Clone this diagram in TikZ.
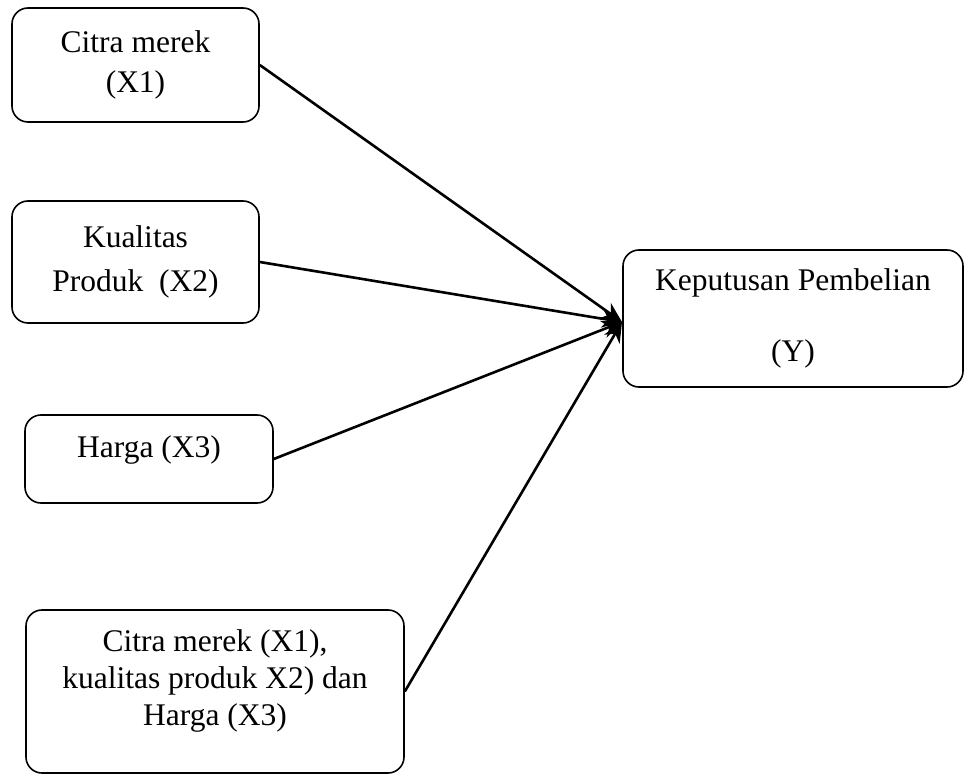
\documentclass[tikz,border=0pt]{standalone}
\usepackage{fontspec}
\setmainfont{Liberation Serif}
\usetikzlibrary{arrows.meta}

\begin{document}
\begin{tikzpicture}
            [x=0.5pt, y=-0.5pt,
            box/.style={draw, thick, rounded corners=8pt, align=center, inner sep=2pt,
                font=\fontsize{15.75}{18.5}\selectfont},
            edge/.style={line width=1.3pt, black, -{Stealth[length=10pt,width=9pt]}}]

            \useasboundingbox (0,0) rectangle (965,775);

            \node[box, minimum width=123.5pt, minimum height=57pt] (b1) at (135.5,65) {Citra merek\\[1.5pt](X1)};
            \node[box, minimum width=123.5pt, minimum height=61pt] (b2) at (135.5,262) {Kualitas\\[3.5pt]Produk~~(X2)};
            \node[box, minimum width=124pt, minimum height=44pt] (b3) at (149,459) {Harga (X3)\rule[-12.5pt]{0pt}{12.5pt}};
            \node[box, minimum width=189pt, minimum height=81.5pt] (b4) at (215,691.5) {Citra merek (X1),\\kualitas produk X2) dan\\Harga (X3)\rule[-13.5pt]{0pt}{13.5pt}};
            \node[box, minimum width=170pt, minimum height=68.5pt] (y) at (793,318.5) {Keputusan Pembelian\\[17pt](Y)};

            % all arrows meet here
            \coordinate (hit) at (622,322);

            \draw[edge] (b1.east) -- (hit);
            \draw[edge] (b2.east) -- (hit);
            \draw[edge] (b3.east) -- (hit);
            \draw[edge] (b4.east) -- (hit);

        \end{tikzpicture}
\end{document}
